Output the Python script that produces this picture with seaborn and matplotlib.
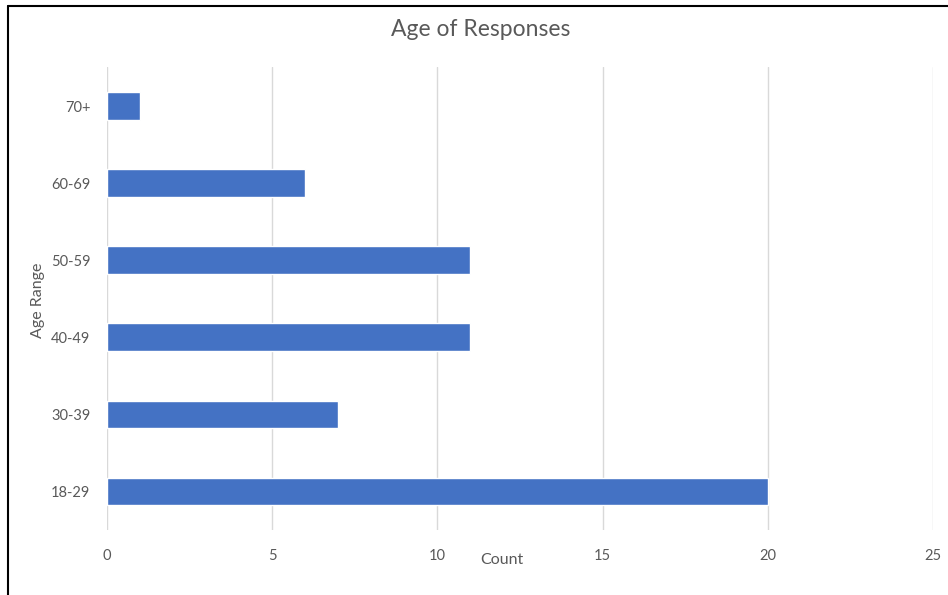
import matplotlib
matplotlib.use("Agg")
import matplotlib.pyplot as plt
import seaborn as sns
import pandas as pd
from matplotlib.lines import Line2D

age_ranges = ["70+", "60-69", "50-59", "40-49", "30-39", "18-29"]
counts = [1, 6, 11, 11, 7, 20]
x_ticks = [0, 5, 10, 15, 20, 25]

df = pd.DataFrame({"Age Range": age_ranges, "Count": counts})

sns.set_theme(style="white")
plt.rcParams['font.family'] = ['Lato', 'DejaVu Sans']

fig = plt.figure(figsize=(9.48, 5.95), dpi=100)
ax = fig.add_axes([0.1129, 0.1092, 0.9842 - 0.1129, 0.8866 - 0.1092])

sns.barplot(data=df, x="Count", y="Age Range", order=age_ranges, color="#4472C4",
            saturation=1, width=0.36, ax=ax, zorder=3)

ax.set_xlim(0, 25)
ax.set_xticks(x_ticks)
ax.set_xticklabels([str(t) for t in x_ticks])
ax.grid(axis="x", color="#d9d9d9", linewidth=1, zorder=0)
ax.set_axisbelow(True)
for s in ax.spines.values():
    s.set_visible(False)
ax.tick_params(axis="both", length=0, labelsize=10.5, colors="#595959")
ax.tick_params(axis="x", pad=14)
ax.tick_params(axis="y", pad=12)

ax.set_xlabel("")
ax.set_ylabel("")
fig.text(502 / 948, 1 - 560 / 595, "Count", ha="center", va="center", fontsize=11.5, color="#595959")
fig.text(38 / 948, 1 - 300 / 595, "Age Range", ha="center", va="center", rotation=90,
         fontsize=11.5, color="#595959")
fig.text(481 / 948, 1 - 30 / 595, "Age of Responses", ha="center", va="center",
         fontsize=16.5, color="#595959")

# outer border (left and top)
fig.add_artist(Line2D([8 / 948, 8 / 948], [0, 1 - 6 / 595], transform=fig.transFigure,
                      color="black", linewidth=1.5))
fig.add_artist(Line2D([8 / 948, 1], [1 - 6 / 595, 1 - 6 / 595], transform=fig.transFigure,
                      color="black", linewidth=1.5))

fig.savefig("out.png", dpi=100)
